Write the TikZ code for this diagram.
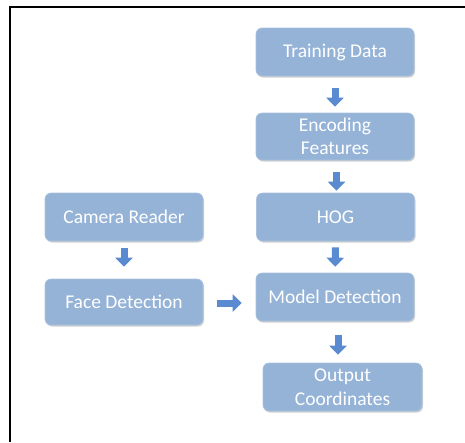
\documentclass[tikz,border=0pt]{standalone}
\usepackage{fontspec}
\setmainfont{Carlito}
\usetikzlibrary{arrows.meta,shadows}
\definecolor{boxfill}{HTML}{95B3D7}
\definecolor{arrowblue}{HTML}{5A8AD0}
\tikzset{
  box/.style={rounded corners=6pt, fill=boxfill, draw=boxfill!80!white, line width=0.6pt,
    drop shadow={shadow xshift=1pt, shadow yshift=-1.5pt, opacity=0.3, fill=black!60},
    text=white, align=center, inner sep=0pt,
    font=\fontsize{19.5}{23.5}\selectfont},
  blk/.style={draw=arrowblue, line width=7pt, -{Triangle[width=17pt,length=9pt]}, arrowblue},
  frame/.style={line width=2pt, black}
}
\begin{document}
\begin{tikzpicture}[x=1pt,y=-1pt]
\useasboundingbox (0,0) rectangle (465,442);
\fill[white] (0,0) rectangle (465,442);
\draw[frame] (10,442) -- (10,7) -- (465,7);

\node[box, minimum width=158pt, minimum height=48pt] (train) at (335,52) {Training Data};
\node[box, minimum width=158pt, minimum height=47pt] (enc) at (335,136.5) {Encoding\\Features};
\node[box, minimum width=158pt, minimum height=48pt] (hog) at (335.5,217) {HOG};
\node[box, minimum width=158pt, minimum height=48pt] (model) at (335,297) {Model Detection};
\node[box, minimum width=158pt, minimum height=48pt] (cam) at (124,217) {Camera Reader};
\node[box, minimum width=158pt, minimum height=46pt] (face) at (124,302) {Face Detection};
\node[box, minimum width=159pt, minimum height=48pt] (out) at (342.5,387) {Output\\Coordinates};

\draw[blk, shorten <=12pt, shorten >=6pt] (train) -- (enc);
\draw[blk, shorten <=12pt, shorten >=2pt] ([xshift=1.5pt]enc.south) -- ([xshift=1pt]hog.north);
\draw[blk, shorten <=6pt, shorten >=6pt] (hog) -- (model);
\draw[blk, shorten <=7pt, shorten >=12pt] (cam) -- (face);
\draw[blk, shorten <=14pt, shorten >=14pt] ([yshift=-1pt]face.east) -- ([yshift=-1pt]face.east -| model.west);
\draw[blk, shorten <=14pt, shorten >=8pt] ([xshift=3pt]model.south) -- ([xshift=-4.5pt]out.north);
\end{tikzpicture}
\end{document}
